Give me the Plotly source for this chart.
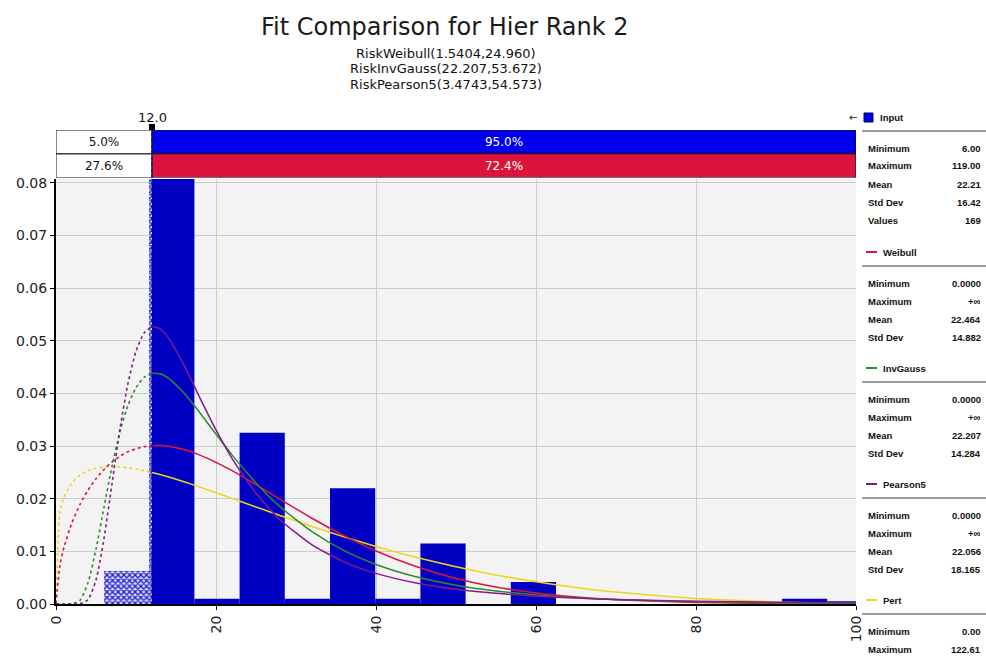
import plotly.graph_objects as go

# ---------------------------------------------------------------- frame
FIG_W, FIG_H = 986, 657
M_L, M_R, M_T, M_B = 56, 130, 130, 53
PW = FIG_W - M_L - M_R
PH = FIG_H - M_T - M_B


def fx(p):
    """pixel column -> paper x"""
    return (p - M_L) / PW


def fy(p):
    """pixel row -> paper y"""
    return (FIG_H - M_B - p) / PH


# ---------------------------------------------------------------- data
title = "Fit Comparison for Hier Rank 2"
subtitles = [
    "RiskWeibull(1.5404,24.960)",
    "RiskInvGauss(22.207,53.672)",
    "RiskPearson5(3.4743,54.573)",
]

# histogram of the input data (density per bin)
bin_edges = [6.0, 11.65, 17.3, 22.95, 28.6, 34.25, 39.9, 45.55, 51.2, 56.85,
             62.5, 68.15, 73.8, 79.45, 85.1, 90.75, 96.4, 102.05, 107.7,
             113.35, 119.0]
bin_density = [0.0062, 0.0920, 0.0010, 0.0325, 0.0010, 0.0220, 0.0010,
               0.0115, 0.0, 0.0042, 0.0, 0.0, 0.0, 0.0, 0.0, 0.0010, 0.0005,
               0.0, 0.0, 0.0010]

# fitted densities sampled along x
curve_x = [0, 0.5, 1, 2, 3, 4, 5, 6, 7, 8, 9, 10, 11, 12, 13, 14, 16, 18, 20,
           22, 25, 28, 32, 36, 40, 45, 50, 55, 60, 65, 70, 80, 90, 100]
weibull_y = [0.0, 0.00744, 0.01077, 0.01545, 0.01891, 0.02162, 0.0238,
             0.02555, 0.02696, 0.02806, 0.02889, 0.02948, 0.02986, 0.03006,
             0.03008, 0.02995, 0.02932, 0.02826, 0.02689, 0.02531, 0.02267,
             0.0199, 0.01628, 0.01297, 0.01007, 0.00711, 0.00486, 0.00323,
             0.00208, 0.00131, 0.00081, 0.00028, 0.00009, 0.00003]
invgauss_y = [0.0, 0.0, 0.0, 0.00002, 0.0007, 0.00402, 0.01042, 0.01836,
              0.02614, 0.03273, 0.0377, 0.04108, 0.04304, 0.04383, 0.04373,
              0.04295, 0.04006, 0.03628, 0.03225, 0.02832, 0.02299, 0.01848,
              0.01372, 0.01015, 0.00751, 0.00517, 0.00357, 0.00247, 0.00172,
              0.0012, 0.00085, 0.00042, 0.00021, 0.00011]
pearson5_y = [0.0, 0.0, 0.0, 0.0, 0.00003, 0.00081, 0.00455, 0.01241,
              0.02283, 0.03328, 0.04192, 0.04798, 0.05144, 0.0527, 0.05228,
              0.05063, 0.04535, 0.0391, 0.03305, 0.02766, 0.02102, 0.016,
              0.01123, 0.00801, 0.00582, 0.004, 0.00282, 0.00203, 0.00149,
              0.00112, 0.00085, 0.00052, 0.00033, 0.00022]
pert_y = [0.0, 0.01757, 0.02027, 0.02302, 0.02446, 0.0253, 0.02579, 0.02603,
          0.0261, 0.02603, 0.02587, 0.02564, 0.02533, 0.02498, 0.02458,
          0.02415, 0.02321, 0.0222, 0.02114, 0.02006, 0.01843, 0.01681,
          0.01473, 0.01275, 0.01093, 0.00887, 0.00707, 0.00552, 0.00421,
          0.00314, 0.00226, 0.00105, 0.0004, 0.0001]

# delimiter and probability split bars
left_delim = 12.0
x_max = 100.0
split_rows = ["Weibull", "Input"]
split_left = {"Input": 5.0, "Weibull": 27.6}
split_right = {"Input": 95.0, "Weibull": 72.4}

# side panel statistics
stat_labels = ["Minimum", "Maximum", "Mean", "Std Dev", "Values"]
input_stats = ["6.00", "119.00", "22.21", "16.42", "169"]
weibull_stats = ["0.0000", "+∞", "22.464", "14.882"]
invgauss_stats = ["0.0000", "+∞", "22.207", "14.284"]
pearson5_stats = ["0.0000", "+∞", "22.056", "18.165"]
pert_stats = ["0.00", "122.61"]

# colours
C_BAR = "#0000C4"
C_INPUT = "#0000EE"
C_WEIBULL = "#DC143C"
C_INVGAUSS = "#2E8B2E"
C_PEARSON5 = "#86198A"
C_PERT = "#F2D31B"

fig = go.Figure()

# ---------------------------------------------------------------- histogram
centers = [(a + b) / 2 for a, b in zip(bin_edges[:-1], bin_edges[1:])]
widths = [b - a for a, b in zip(bin_edges[:-1], bin_edges[1:])]
fig.add_trace(go.Bar(
    x=centers, y=bin_density, width=widths,
    marker=dict(color=C_BAR, line=dict(width=0)),
    hoverinfo="skip", showlegend=False,
))

# portion of the histogram left of the delimiter is hatched
hx, hw, hy = [], [], []
for a, b, d in zip(bin_edges[:-1], bin_edges[1:], bin_density):
    if a < left_delim and d > 0:
        e = min(b, left_delim)
        hx.append((a + e) / 2)
        hw.append(e - a)
        hy.append(d)
fig.add_trace(go.Bar(
    x=hx, y=hy, width=hw,
    marker=dict(color="#DADAF6", line=dict(width=0),
                pattern=dict(shape="x", fgcolor="#1C1CC8", bgcolor="#DADAF6",
                             size=4, solidity=0.55, fillmode="replace")),
    hoverinfo="skip", showlegend=False,
))

# ---------------------------------------------------------------- fitted curves
cut = curve_x.index(left_delim)
for ys, col in [(pert_y, C_PERT), (weibull_y, C_WEIBULL),
                (invgauss_y, C_INVGAUSS), (pearson5_y, C_PEARSON5)]:
    fig.add_trace(go.Scatter(
        x=curve_x[:cut + 1], y=ys[:cut + 1], mode="lines",
        line=dict(color=col, width=1.6, dash="dot", shape="spline",
                  smoothing=0.6),
        hoverinfo="skip", showlegend=False, cliponaxis=True,
    ))
    fig.add_trace(go.Scatter(
        x=curve_x[cut:], y=ys[cut:], mode="lines",
        line=dict(color=col, width=1.5, shape="spline", smoothing=0.6),
        hoverinfo="skip", showlegend=False, cliponaxis=True,
    ))

# ---------------------------------------------------------------- split bars
fig.add_trace(go.Bar(
    orientation="h", y=split_rows, base=[0, 0],
    x=[left_delim, left_delim], width=1, xaxis="x", yaxis="y2",
    marker=dict(color="white", line=dict(color="#111111", width=1)),
    text=[f"{split_left[r]:.1f}%" for r in split_rows],
    textposition="inside", insidetextanchor="middle",
    textfont=dict(family="DejaVu Sans", size=12, color="#111111"),
    hoverinfo="skip", showlegend=False,
))
for row, col in [("Input", C_INPUT), ("Weibull", C_WEIBULL)]:
    fig.add_trace(go.Bar(
        orientation="h", y=[row], base=[left_delim],
        x=[x_max - left_delim], width=1, xaxis="x", yaxis="y2",
        marker=dict(color=col, line=dict(color="#111111", width=1)),
        text=[f"{split_right[row]:.1f}%"],
        textposition="inside", insidetextanchor="middle",
        textfont=dict(family="DejaVu Sans", size=12, color="white"),
        hoverinfo="skip", showlegend=False,
    ))

# ---------------------------------------------------------------- layout
tick_font = dict(family="DejaVu Sans", size=14, color="#222222")
fig.update_layout(
    width=FIG_W, height=FIG_H,
    margin=dict(l=M_L, r=M_R, t=M_T, b=M_B),
    paper_bgcolor="white", plot_bgcolor="#F3F3F3",
    barmode="overlay", showlegend=False, hovermode=False,
    xaxis=dict(range=[0, x_max], tickvals=[0, 20, 40, 60, 80, 100],
               tickangle=-90, tickfont=tick_font,
               showgrid=True, gridcolor="#CBCBCB", gridwidth=1,
               zeroline=False, showline=True, linecolor="black", linewidth=2,
               ticks="outside", ticklen=4, tickcolor="black", anchor="y"),
    yaxis=dict(domain=[0, fy(179)], range=[0, 0.0807], dtick=0.01,
               tickformat=".2f", tickfont=tick_font,
               showgrid=True, gridcolor="#CBCBCB", gridwidth=1,
               zeroline=False, showline=True, linecolor="black", linewidth=2,
               ticks="outside", ticklen=4, tickcolor="black"),
    yaxis2=dict(domain=[fy(177.5), 1], range=[-0.5, 1.5],
                categoryorder="array", categoryarray=split_rows,
                showticklabels=False, showgrid=False, zeroline=False,
                anchor="x"),
)

annotations = []
shapes = []

# titles
annotations.append(dict(x=fx(445), y=fy(27), xref="paper", yref="paper",
                        text=title, showarrow=False, xanchor="center",
                        yanchor="middle",
                        font=dict(family="DejaVu Sans", size=24,
                                  color="#1A1A1A")))
for i, s in enumerate(subtitles):
    annotations.append(dict(x=fx(446), y=fy(53 + 16 * i), xref="paper",
                            yref="paper", text=s, showarrow=False,
                            xanchor="center", yanchor="middle",
                            font=dict(family="DejaVu Sans", size=13,
                                      color="#111111")))

# delimiter marker
annotations.append(dict(x=left_delim, y=fy(117), xref="x", yref="paper",
                        text=f"{left_delim:.1f}", showarrow=False,
                        xanchor="center", yanchor="middle",
                        font=dict(family="DejaVu Sans", size=13,
                                  color="#111111")))
shapes.append(dict(type="line", xref="x", yref="paper", x0=left_delim,
                   x1=left_delim, y0=0, y1=fy(126), layer="above",
                   line=dict(color="#10108C", width=1.5, dash="dot")))
shapes.append(dict(type="rect", xref="x", yref="paper", xsizemode="pixel",
                   ysizemode="pixel", xanchor=left_delim, yanchor=fy(127),
                   x0=-3, x1=3, y0=-3, y1=3, fillcolor="black",
                   line=dict(width=0), layer="above"))
annotations.append(dict(x=fx(853), y=fy(117), xref="paper", yref="paper",
                        text="←", showarrow=False, xanchor="center",
                        yanchor="middle",
                        font=dict(family="DejaVu Sans", size=10,
                                  color="#111111")))

# ---------------------------------------------------------------- side panel
panel_font = dict(family="Liberation Sans", size=9.5, color="#111111")
LBL_X, VAL_X = 866, 983


def panel_block(header, color, values, header_y, is_input=False):
    if is_input:
        shapes.append(dict(type="rect", xref="paper", yref="paper",
                           x0=fx(864), x1=fx(873), y0=fy(122), y1=fy(113),
                           fillcolor=color, line=dict(color="#000060",
                                                      width=1)))
        hx0 = 878
    else:
        shapes.append(dict(type="line", xref="paper", yref="paper",
                           x0=fx(866), x1=fx(877), y0=fy(header_y),
                           y1=fy(header_y), line=dict(color=color, width=2)))
        hx0 = 881
    annotations.append(dict(x=fx(hx0), y=fy(header_y), xref="paper",
                            yref="paper", text=f"<b>{header}</b>",
                            showarrow=False, xanchor="left",
                            yanchor="middle", font=panel_font))
    shapes.append(dict(type="line", xref="paper", yref="paper",
                       x0=fx(862), x1=fx(992), y0=fy(header_y + 14),
                       y1=fy(header_y + 14),
                       line=dict(color="#7A7A7A", width=1.5)))
    for k, v in enumerate(values):
        yy = header_y + 31 + 18 * k
        annotations.append(dict(x=fx(LBL_X), y=fy(yy), xref="paper",
                                yref="paper", text=f"<b>{stat_labels[k]}</b>",
                                showarrow=False, xanchor="left",
                                yanchor="middle", font=panel_font))
        annotations.append(dict(x=fx(VAL_X), y=fy(yy), xref="paper",
                                yref="paper", text=f"<b>{v}</b>",
                                showarrow=False, xanchor="right",
                                yanchor="middle", font=panel_font))


panel_block("Input", C_INPUT, input_stats, 117, is_input=True)
panel_block("Weibull", C_WEIBULL, weibull_stats, 252)
panel_block("InvGauss", C_INVGAUSS, invgauss_stats, 368)
panel_block("Pearson5", C_PEARSON5, pearson5_stats, 484)
panel_block("Pert", C_PERT, pert_stats, 600)

fig.update_layout(annotations=annotations, shapes=shapes)

fig.write_html("out.html", config={"displayModeBar": False})
